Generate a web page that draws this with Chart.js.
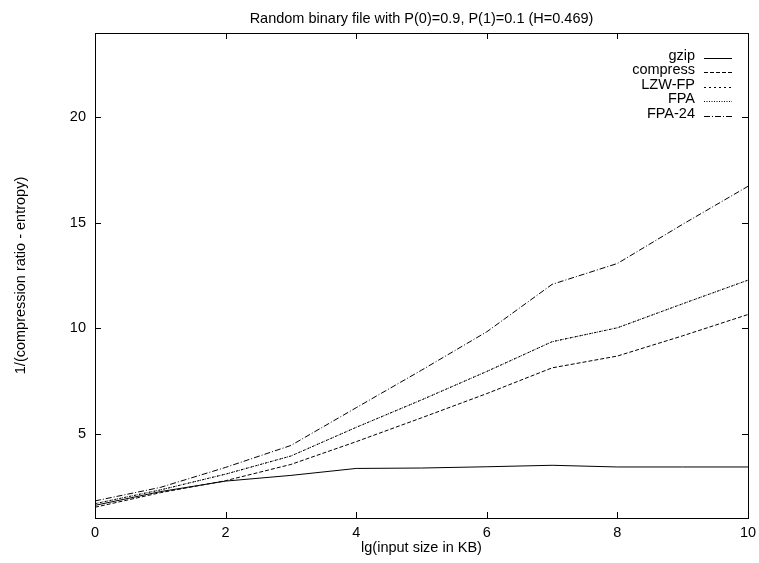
<!DOCTYPE html>
<html>
<head>
<meta charset="utf-8">
<script src="https://cdn.jsdelivr.net/npm/chart.js@4.4.1/dist/chart.umd.min.js"></script>
<style>
html, body { margin: 0; padding: 0; background: #fff; }
#wrap { width: 759px; height: 563px; position: relative; }
</style>
</head>
<body>
<div id="wrap"><canvas id="entropyChart"></canvas></div>
<script>
// lg(input size in KB)
const lgSizes = [0, 1, 2, 3, 4, 5, 6, 7, 8, 9, 10];

const gzip     = [1.60, 2.25, 2.75, 3.02, 3.35, 3.37, 3.43, 3.50, 3.42, 3.42, 3.42];
const compress = [1.51, 2.20, 2.77, 3.54, 4.62, 5.75, 6.90, 8.12, 8.68, 9.64, 10.65];
const lzwFp    = [1.68, 2.33, 3.08, 3.94, 5.30, 6.60, 7.95, 9.36, 10.02, 11.16, 12.28];
const fpa      = [1.68, 2.33, 3.08, 3.94, 5.30, 6.60, 7.95, 9.36, 10.02, 11.16, 12.28];
const fpa24    = [1.81, 2.45, 3.40, 4.44, 6.23, 8.01, 9.83, 12.08, 13.07, 14.93, 16.73];

const xTicks = [0, 2, 4, 6, 8, 10];
const yTicks = [5, 10, 15, 20];

const FONT = '"Liberation Sans", Arial, Helvetica, sans-serif';
const FSIZE = 14.5;

function series(label, values, dash) {
    return {
        label: label,
        data: lgSizes.map((x, i) => ({ x: x, y: values[i] })),
        borderColor: "#000",
        borderWidth: 1,
        borderDash: dash,
        pointRadius: 0,
        tension: 0,
        fill: false
    };
}

// gnuplot look: closed frame, inward mirrored ticks, title and key inside
const gnuplotFrame = {
    id: "gnuplotFrame",
    afterDraw(chart) {
        const ctx = chart.ctx;
        const a = chart.chartArea;
        const xs = chart.scales.x;
        const ys = chart.scales.y;
        const tl = 6;

        ctx.save();
        ctx.strokeStyle = "#000";
        ctx.lineWidth = 1;
        ctx.setLineDash([]);
        ctx.strokeRect(a.left + 0.5, a.top + 0.5, a.right - a.left, a.bottom - a.top);

        ctx.beginPath();
        xs.ticks.forEach(t => {
            const px = Math.round(xs.getPixelForValue(t.value)) + 0.5;
            ctx.moveTo(px, a.bottom);
            ctx.lineTo(px, a.bottom - tl);
            ctx.moveTo(px, a.top);
            ctx.lineTo(px, a.top + tl);
        });
        ys.ticks.forEach(t => {
            const py = Math.round(ys.getPixelForValue(t.value)) + 0.5;
            ctx.moveTo(a.left, py);
            ctx.lineTo(a.left + tl, py);
            ctx.moveTo(a.right, py);
            ctx.lineTo(a.right - tl, py);
        });
        ctx.stroke();

        // title
        ctx.fillStyle = "#000";
        ctx.font = FSIZE + "px " + FONT;
        ctx.textAlign = "center";
        ctx.textBaseline = "alphabetic";
        ctx.fillText("Random binary file with P(0)=0.9, P(1)=0.1 (H=0.469)", (a.left + a.right) / 2, 23);

        // key
        ctx.textAlign = "right";
        chart.data.datasets.forEach((ds, i) => {
            const base = 59.5 + i * 14.6;
            ctx.fillText(ds.label, 695, base);
            ctx.beginPath();
            ctx.setLineDash(ds.borderDash || []);
            ctx.moveTo(704, Math.round(base - 2) + 0.5);
            ctx.lineTo(732, Math.round(base - 2) + 0.5);
            ctx.stroke();
        });
        ctx.restore();
    }
};

const ctx = document.getElementById("entropyChart").getContext("2d");

new Chart(ctx, {
    type: "line",
    data: {
        datasets: [
            series("gzip", gzip, []),
            series("compress", compress, [4, 2]),
            series("LZW-FP", lzwFp, [2, 3]),
            series("FPA", fpa, [1, 1.5]),
            series("FPA-24", fpa24, [6, 2, 1, 2])
        ]
    },
    options: {
        responsive: true,
        maintainAspectRatio: false,
        animation: false,
        layout: { padding: { left: 0, right: 11, top: 33, bottom: 0 } },
        plugins: {
            legend: { display: false },
            tooltip: { enabled: false }
        },
        scales: {
            x: {
                type: "linear",
                min: 0,
                max: 10,
                afterBuildTicks: s => { s.ticks = xTicks.map(v => ({ value: v })); },
                afterFit: s => { s.height = 45; s.paddingLeft = 0; s.paddingRight = 0; },
                grid: { display: false, drawTicks: false },
                border: { display: false },
                ticks: { color: "#000", padding: 6, font: { family: FONT, size: FSIZE } },
                title: {
                    display: true,
                    text: "lg(input size in KB)",
                    color: "#000",
                    padding: { top: 0, bottom: 6 },
                    font: { family: FONT, size: FSIZE }
                }
            },
            y: {
                type: "linear",
                min: 1,
                max: 24,
                afterBuildTicks: s => { s.ticks = yTicks.map(v => ({ value: v })); },
                afterFit: s => { s.width = 95; s.paddingTop = 0; s.paddingBottom = 0; },
                grid: { display: false, drawTicks: false },
                border: { display: false },
                ticks: { color: "#000", padding: 9, font: { family: FONT, size: FSIZE } },
                title: {
                    display: true,
                    text: "1/(compression ratio - entropy)",
                    color: "#000",
                    padding: { top: 12, bottom: 0 },
                    font: { family: FONT, size: FSIZE }
                }
            }
        }
    },
    plugins: [gnuplotFrame]
});
</script>
</body>
</html>
